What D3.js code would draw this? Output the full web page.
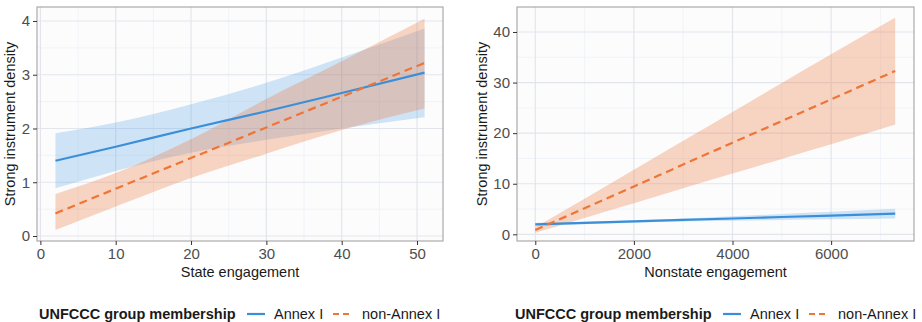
<!DOCTYPE html>
<html>
<head>
  <meta charset="utf-8">
  <title>Strong instrument density</title>
  <script src="https://d3js.org/d3.v7.min.js"></script>
  <style>
    body { margin: 0; background: #fff; font-family: "Liberation Sans", Arial, sans-serif; }
    .tick text { fill: #4d4d4d; font-size: 15px; font-family: "Liberation Sans", Arial, sans-serif; }
    .tick line { stroke: #333; }
    .domain { display: none; }
    .title { font-size: 14.5px; fill: #1a1a1a; }
  </style>
</head>
<body>
  <div id="chart"></div>
  <script>
    // left panel: state engagement
    const stateX = [2, 10, 20, 30, 40, 51];
    const stateAnnexFit = [1.40, 1.66, 2.00, 2.32, 2.66, 3.04];
    const stateAnnexLo  = [0.89, 1.21, 1.55, 1.79, 2.00, 2.21];
    const stateAnnexHi  = [1.91, 2.11, 2.45, 2.85, 3.32, 3.86];
    const stateNonFit = [0.42, 0.88, 1.45, 2.02, 2.59, 3.22];
    const stateNonLo  = [0.11, 0.55, 1.08, 1.53, 1.97, 2.37];
    const stateNonHi  = [0.78, 1.17, 1.80, 2.55, 3.25, 4.04];
    const stateXTicks = [0, 10, 20, 30, 40, 50];
    const stateYTicks = [0, 1, 2, 3, 4];

    // right panel: nonstate engagement
    const nonstateX = [0, 1000, 2000, 3000, 4000, 5000, 6000, 7300];
    const nonAnnexFit = [1.97, 2.26, 2.55, 2.84, 3.13, 3.42, 3.71, 4.10];
    const nonAnnexLo  = [1.67, 2.01, 2.30, 2.54, 2.68, 2.82, 2.96, 3.15];
    const nonAnnexHi  = [2.27, 2.51, 2.80, 3.14, 3.58, 4.02, 4.46, 5.05];
    const nonNonFit = [0.85, 5.15, 9.45, 13.8, 18.1, 22.4, 26.7, 32.3];
    const nonNonLo  = [0.30, 3.25, 6.15, 9.10, 12.0, 14.9, 17.8, 21.7];
    const nonNonHi  = [1.40, 7.05, 12.75, 18.5, 24.2, 29.9, 35.6, 42.8];
    const nonXTicks = [0, 2000, 4000, 6000];
    const nonYTicks = [0, 10, 20, 30, 40];

    const groups = ["Annex I", "non-Annex I"];
    const lineColor = { "Annex I": "#3b8fd9", "non-Annex I": "#ee7535" };
    const fillColor = { "Annex I": "rgba(74,160,228,0.26)", "non-Annex I": "rgba(234,116,59,0.30)" };

    const width = 922, height = 322;
    const svg = d3.select("#chart").append("svg")
      .attr("width", width).attr("height", height);

    function drawPanel(p) {
      const x = d3.scaleLinear().domain(p.xDomain).range([p.left, p.right]);
      const y = d3.scaleLinear().domain(p.yDomain).range([p.bottom, p.top]);
      const g = svg.append("g");

      g.append("rect")
        .attr("x", p.left).attr("y", p.top)
        .attr("width", p.right - p.left).attr("height", p.bottom - p.top)
        .attr("fill", "#fcfcfd");

      // minor grid
      g.selectAll(".gx-minor").data(p.xMinor).enter().append("line")
        .attr("x1", d => x(d)).attr("x2", d => x(d))
        .attr("y1", p.top).attr("y2", p.bottom)
        .attr("stroke", "#eef1f5").attr("stroke-width", 0.8);
      g.selectAll(".gy-minor").data(p.yMinor).enter().append("line")
        .attr("y1", d => y(d)).attr("y2", d => y(d))
        .attr("x1", p.left).attr("x2", p.right)
        .attr("stroke", "#eef1f5").attr("stroke-width", 0.8);
      // major grid
      g.selectAll(".gx").data(p.xTicks).enter().append("line")
        .attr("x1", d => x(d)).attr("x2", d => x(d))
        .attr("y1", p.top).attr("y2", p.bottom)
        .attr("stroke", "#e2e6ec").attr("stroke-width", 1.2);
      g.selectAll(".gy").data(p.yTicks).enter().append("line")
        .attr("y1", d => y(d)).attr("y2", d => y(d))
        .attr("x1", p.left).attr("x2", p.right)
        .attr("stroke", "#e2e6ec").attr("stroke-width", 1.2);

      const area = d3.area()
        .x(d => x(d.x)).y0(d => y(d.lo)).y1(d => y(d.hi))
        .curve(d3.curveMonotoneX);
      const line = d3.line()
        .x(d => x(d.x)).y(d => y(d.fit))
        .curve(d3.curveMonotoneX);

      p.series.forEach(s => {
        g.append("path").datum(s.pts)
          .attr("d", area).attr("fill", fillColor[s.name]);
      });
      p.series.forEach(s => {
        g.append("path").datum(s.pts)
          .attr("d", line).attr("fill", "none")
          .attr("stroke", lineColor[s.name]).attr("stroke-width", 2.2)
          .attr("stroke-dasharray", s.name === "non-Annex I" ? "8,5" : null);
      });

      g.append("rect")
        .attr("x", p.left).attr("y", p.top)
        .attr("width", p.right - p.left).attr("height", p.bottom - p.top)
        .attr("fill", "none").attr("stroke", "#9e9a98").attr("stroke-width", 1);

      g.append("g").attr("transform", "translate(0," + p.bottom + ")")
        .call(d3.axisBottom(x).tickValues(p.xTicks).tickSize(4).tickPadding(3).tickFormat(d3.format("d")));
      g.append("g").attr("transform", "translate(" + p.left + ",0)")
        .call(d3.axisLeft(y).tickValues(p.yTicks).tickSize(4).tickPadding(3).tickFormat(d3.format("d")));

      g.append("text").attr("class", "title")
        .attr("x", (p.left + p.right) / 2).attr("y", 277)
        .attr("text-anchor", "middle").text(p.xTitle);
      g.append("text").attr("class", "title")
        .attr("transform", "translate(" + p.yTitleX + "," + (p.top + p.bottom) / 2 + ") rotate(-90)")
        .attr("text-anchor", "middle").text("Strong instrument density");

      // legend
      const lg = g.append("g").attr("transform", "translate(" + p.legendX + ",319)");
      lg.append("text").attr("x", 0).attr("y", 0)
        .attr("font-size", "14.5px").attr("font-weight", "bold").attr("fill", "#1a1a1a")
        .text("UNFCCC group membership");
      const keys = [
        { name: "Annex I", x0: 208, tx: 235 },
        { name: "non-Annex I", x0: 294, tx: 323 }
      ];
      keys.forEach(k => {
        lg.append("line").attr("x1", k.x0).attr("x2", k.x0 + 18)
          .attr("y1", -5).attr("y2", -5)
          .attr("stroke", lineColor[k.name]).attr("stroke-width", 2.2)
          .attr("stroke-dasharray", k.name === "non-Annex I" ? "6,4" : null);
        lg.append("text").attr("x", k.tx).attr("y", 0)
          .attr("font-size", "14.5px").attr("fill", "#1a1a1a").text(k.name);
      });
    }

    function zipPts(xs, fit, lo, hi) {
      return xs.map((v, i) => ({ x: v, fit: fit[i], lo: lo[i], hi: hi[i] }));
    }

    drawPanel({
      left: 37, right: 443, top: 7, bottom: 241,
      xDomain: [-0.45, 53.45], yDomain: [-0.093, 4.26],
      xTicks: stateXTicks, yTicks: stateYTicks,
      xMinor: [5, 15, 25, 35, 45], yMinor: [0.5, 1.5, 2.5, 3.5],
      xTitle: "State engagement", yTitleX: 14.5, legendX: 39,
      series: [
        { name: "Annex I", pts: zipPts(stateX, stateAnnexFit, stateAnnexLo, stateAnnexHi) },
        { name: "non-Annex I", pts: zipPts(stateX, stateNonFit, stateNonLo, stateNonHi) }
      ]
    });

    drawPanel({
      left: 517, right: 914, top: 7, bottom: 241,
      xDomain: [-371, 7681], yDomain: [-1.32, 44.94],
      xTicks: nonXTicks, yTicks: nonYTicks,
      xMinor: [1000, 3000, 5000, 7000], yMinor: [5, 15, 25, 35],
      xTitle: "Nonstate engagement", yTitleX: 487, legendX: 515,
      series: [
        { name: "Annex I", pts: zipPts(nonstateX, nonAnnexFit, nonAnnexLo, nonAnnexHi) },
        { name: "non-Annex I", pts: zipPts(nonstateX, nonNonFit, nonNonLo, nonNonHi) }
      ]
    });
  </script>
</body>
</html>
